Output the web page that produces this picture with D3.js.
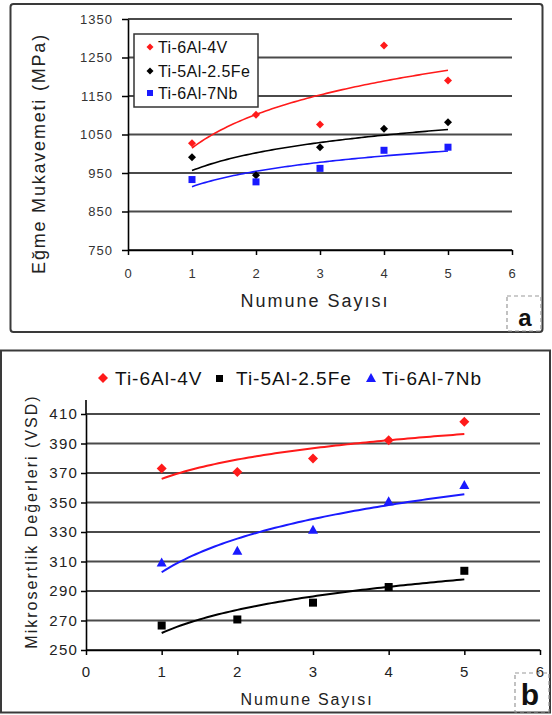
<!DOCTYPE html>
<html>
<head>
<meta charset="utf-8">
<script src="https://cdn.jsdelivr.net/npm/d3@7"></script>
<style>
  html, body { margin: 0; padding: 0; background: #fff; }
  svg { display: block; }
  text { font-family: "Liberation Sans", Arial, sans-serif; }
</style>
</head>
<body>
<svg id="chart" width="552" height="715"></svg>
<script>
// ---------- data ----------
const xValues = [1, 2, 3, 4, 5];
const xTicks = [0, 1, 2, 3, 4, 5, 6];
const seriesNames = ["Ti-6Al-4V", "Ti-5Al-2.5Fe", "Ti-6Al-7Nb"];

// panel a: Eğme Mukavemeti (MPa)
const aTi6Al4V = [1027, 1101, 1076, 1281, 1190];
const aTi5Al25Fe = [991, 944, 1017, 1065, 1082];
const aTi6Al7Nb = [933, 927, 962, 1009, 1017];
const aYTicks = [750, 850, 950, 1050, 1150, 1250, 1350];

// panel b: Mikrosertlik Değerleri (VSD)
const bTi6Al4V = [373, 370.7, 379.8, 392.2, 404.8];
const bTi5Al25Fe = [266.6, 270.7, 282.1, 292.7, 303.7];
const bTi6Al7Nb = [309.3, 317.3, 331.6, 350.9, 361.8];
const bYTicks = [250, 270, 290, 310, 330, 350, 370, 390, 410];

const colors = ["#ff1a1a", "#000000", "#1a1aff"];

// logarithmic trend line (least squares on ln x)
function logFit(xs, ys) {
  const lx = xs.map(Math.log);
  const mx = d3.mean(lx), my = d3.mean(ys);
  let sxy = 0, sxx = 0;
  lx.forEach((v, i) => { sxy += (v - mx) * (ys[i] - my); sxx += (v - mx) * (v - mx); });
  const b = sxy / sxx, a = my - b * mx;
  return x => a + b * Math.log(x);
}

const svg = d3.select("#chart");

function diamondPath(r) { return `M0,${-r}L${r},0L0,${r}L${-r},0Z`; }

// ================= PANEL A =================
(function () {
  const g = svg.append("g");
  g.append("rect").attr("x", 10.5).attr("y", 4).attr("width", 532).attr("height", 328)
    .attr("rx", 3).attr("fill", "#fff").attr("stroke", "#3a3a3a").attr("stroke-width", 2);

  const x = d3.scaleLinear().domain([0, 6]).range([128, 512]);
  const y = d3.scaleLinear().domain([750, 1350]).range([250, 19]);

  // gridlines
  g.append("g").selectAll("line").data(aYTicks).join("line")
    .attr("x1", x(0)).attr("x2", x(6)).attr("y1", d => y(d)).attr("y2", d => y(d))
    .attr("stroke", "#4a4a4a").attr("stroke-width", 1.8);

  const yAxis = g.append("g").attr("transform", `translate(${x(0)},0)`)
    .call(d3.axisLeft(y).tickValues(aYTicks).tickSize(6).tickSizeOuter(0).tickPadding(9).tickFormat(d3.format("d")));
  const xAxis = g.append("g").attr("transform", `translate(0,${y(750)})`)
    .call(d3.axisBottom(x).tickValues(xTicks).tickSize(5).tickSizeOuter(0).tickPadding(14).tickFormat(d3.format("d")));
  [yAxis, xAxis].forEach(ax => {
    ax.select(".domain").attr("stroke", "#000").attr("stroke-width", 1.6);
    ax.selectAll(".tick line").attr("stroke", "#000").attr("stroke-width", 1.5);
    ax.selectAll(".tick text").attr("fill", "#333").attr("font-size", 13)
      .attr("letter-spacing", 1).attr("font-family", "Liberation Sans, Arial, sans-serif");
  });

  // trend lines
  const series = [aTi6Al4V, aTi5Al25Fe, aTi6Al7Nb];
  const line = d3.line().x(d => x(d[0])).y(d => y(d[1]));
  series.forEach((s, i) => {
    const f = logFit(xValues, s);
    const pts = d3.range(1, 5.0001, 0.05).map(v => [v, f(v)]);
    g.append("path").attr("d", line(pts)).attr("fill", "none")
      .attr("stroke", colors[i]).attr("stroke-width", 1.6);
  });

  // markers
  g.append("g").selectAll("path").data(xValues).join("path")
    .attr("transform", (d, i) => `translate(${x(d)},${y(aTi6Al4V[i])})`)
    .attr("d", diamondPath(4)).attr("fill", colors[0]);
  g.append("g").selectAll("path").data(xValues).join("path")
    .attr("transform", (d, i) => `translate(${x(d)},${y(aTi5Al25Fe[i])})`)
    .attr("d", diamondPath(4)).attr("fill", colors[1]);
  g.append("g").selectAll("rect").data(xValues).join("rect")
    .attr("x", d => x(d) - 3.5).attr("y", (d, i) => y(aTi6Al7Nb[i]) - 3.5)
    .attr("width", 7).attr("height", 7).attr("fill", colors[2]);

  // legend
  const lg = g.append("g");
  lg.append("rect").attr("x", 134).attr("y", 34).attr("width", 124).attr("height", 73)
    .attr("fill", "#fff").attr("stroke", "#333").attr("stroke-width", 1.5);
  const ly = [47, 71, 93];
  seriesNames.forEach((n, i) => {
    if (i < 2) {
      lg.append("path").attr("transform", `translate(150,${ly[i]})`).attr("d", diamondPath(3.5)).attr("fill", colors[i]);
    } else {
      lg.append("rect").attr("x", 147).attr("y", ly[i] - 3).attr("width", 6).attr("height", 6).attr("fill", colors[i]);
    }
    lg.append("text").attr("x", 158).attr("y", ly[i] + 6).attr("font-size", 16)
      .attr("letter-spacing", 0.4).attr("fill", "#111").text(n);
  });

  // titles
  g.append("text").attr("x", 315).attr("y", 307).attr("text-anchor", "middle")
    .attr("font-size", 18).attr("letter-spacing", 2).attr("fill", "#222").text("Numune Sayısı");
  g.append("text").attr("transform", "translate(45,153.5) rotate(-90)").attr("text-anchor", "middle")
    .attr("font-size", 18).attr("letter-spacing", 1.8).attr("fill", "#222").text("Eğme Mukavemeti (MPa)");

  // panel label
  g.append("rect").attr("x", 507).attr("y", 296).attr("width", 34).attr("height", 35)
    .attr("fill", "none").attr("stroke", "#999").attr("stroke-width", 1.2).attr("stroke-dasharray", "4,3");
  g.append("text").attr("x", 525).attr("y", 326).attr("text-anchor", "middle")
    .attr("font-family", "Liberation Serif, serif").attr("font-weight", "bold")
    .attr("font-size", 24).attr("fill", "#111").text("a");
})();

// ================= PANEL B =================
(function () {
  const g = svg.append("g");
  g.append("rect").attr("x", 1).attr("y", 350.5).attr("width", 549).attr("height", 362)
    .attr("fill", "#fff").attr("stroke", "#3a3a3a").attr("stroke-width", 2);

  const x = d3.scaleLinear().domain([0, 6]).range([86, 540]);
  const y = d3.scaleLinear().domain([250, 410]).range([650, 414]);

  g.append("g").selectAll("line").data(bYTicks).join("line")
    .attr("x1", x(0)).attr("x2", x(6)).attr("y1", d => y(d)).attr("y2", d => y(d))
    .attr("stroke", "#4a4a4a").attr("stroke-width", 1.8);

  const yAxis = g.append("g").attr("transform", `translate(${x(0)},0)`)
    .call(d3.axisLeft(y).tickValues(bYTicks).tickSize(5).tickSizeOuter(0).tickPadding(3).tickFormat(d3.format("d")));
  const xAxis = g.append("g").attr("transform", `translate(0,${y(250)})`)
    .call(d3.axisBottom(x).tickValues(xTicks).tickSize(5).tickSizeOuter(0).tickPadding(11).tickFormat(d3.format("d")));
  [yAxis, xAxis].forEach(ax => {
    ax.select(".domain").attr("stroke", "#000").attr("stroke-width", 1.6);
    ax.selectAll(".tick line").attr("stroke", "#000").attr("stroke-width", 1.5);
    ax.selectAll(".tick text").attr("fill", "#222").attr("font-size", 15)
      .attr("letter-spacing", 1.2).attr("font-family", "Liberation Sans, Arial, sans-serif");
  });
  // axis line extends a little above the top gridline
  g.append("line").attr("x1", x(0)).attr("x2", x(0)).attr("y1", y(410)).attr("y2", y(410) - 14)
    .attr("stroke", "#000").attr("stroke-width", 1.6);

  const series = [bTi6Al4V, bTi5Al25Fe, bTi6Al7Nb];
  const line = d3.line().x(d => x(d[0])).y(d => y(d[1]));
  series.forEach((s, i) => {
    const f = logFit(xValues, s);
    const pts = d3.range(1, 5.0001, 0.05).map(v => [v, f(v)]);
    g.append("path").attr("d", line(pts)).attr("fill", "none")
      .attr("stroke", colors[i]).attr("stroke-width", 2);
  });

  g.append("g").selectAll("path").data(xValues).join("path")
    .attr("transform", (d, i) => `translate(${x(d)},${y(bTi6Al4V[i])})`)
    .attr("d", diamondPath(5)).attr("fill", colors[0]);
  g.append("g").selectAll("rect").data(xValues).join("rect")
    .attr("x", d => x(d) - 4).attr("y", (d, i) => y(bTi5Al25Fe[i]) - 4)
    .attr("width", 8).attr("height", 8).attr("fill", colors[1]);
  g.append("g").selectAll("path").data(xValues).join("path")
    .attr("transform", (d, i) => `translate(${x(d)},${y(bTi6Al7Nb[i])})`)
    .attr("d", "M0,-5L5,4L-5,4Z").attr("fill", colors[2]);

  // legend (top, horizontal)
  const lg = g.append("g");
  const lx = [103, 220, 371];
  const tx = [115, 236, 382];
  seriesNames.forEach((n, i) => {
    if (i === 0) lg.append("path").attr("transform", `translate(${lx[i]},378)`).attr("d", diamondPath(5)).attr("fill", colors[i]);
    if (i === 1) lg.append("rect").attr("x", lx[i] - 4).attr("y", 375).attr("width", 7).attr("height", 7).attr("fill", colors[i]);
    if (i === 2) lg.append("path").attr("transform", `translate(${lx[i]},378)`).attr("d", "M0,-5L5,4L-5,4Z").attr("fill", colors[i]);
    lg.append("text").attr("x", tx[i]).attr("y", 385).attr("font-size", 19)
      .attr("letter-spacing", 1).attr("fill", "#111").text(n);
  });

  g.append("text").attr("x", 307).attr("y", 705).attr("text-anchor", "middle")
    .attr("font-size", 16).attr("letter-spacing", 1.8).attr("fill", "#222").text("Numune Sayısı");
  g.append("text").attr("transform", "translate(37,521.5) rotate(-90)").attr("text-anchor", "middle")
    .attr("font-size", 16).attr("letter-spacing", 2).attr("fill", "#222").text("Mikrosertlik Değerleri (VSD)");

  g.append("rect").attr("x", 515).attr("y", 673).attr("width", 34).attr("height", 39)
    .attr("fill", "none").attr("stroke", "#999").attr("stroke-width", 1.2).attr("stroke-dasharray", "4,3");
  g.append("text").attr("x", 530).attr("y", 705).attr("text-anchor", "middle")
    .attr("font-family", "Liberation Serif, serif").attr("font-weight", "bold")
    .attr("font-size", 30).attr("fill", "#111").text("b");
})();
</script>
</body>
</html>
